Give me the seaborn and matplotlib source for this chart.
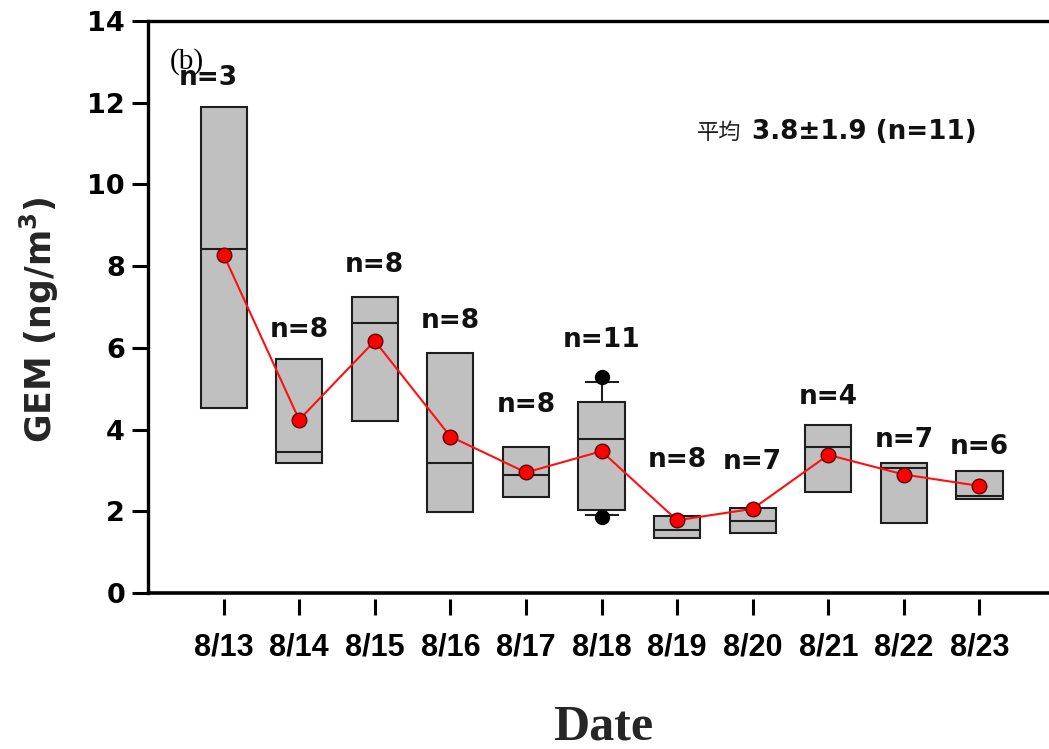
import numpy as np
import pandas as pd
import matplotlib
matplotlib.use("Agg")
import matplotlib.pyplot as plt
import seaborn as sns

# ---------------- data ----------------
dates = ["8/13", "8/14", "8/15", "8/16", "8/17", "8/18", "8/19", "8/20", "8/21", "8/22", "8/23"]
q1 = [4.53, 3.18, 4.21, 1.98, 2.34, 2.02, 1.35, 1.47, 2.46, 1.71, 2.29]
q3 = [11.89, 5.73, 7.24, 5.87, 3.57, 4.68, 1.88, 2.08, 4.10, 3.17, 2.99]
medians = [8.42, 3.45, 6.61, 3.18, 2.90, 3.76, 1.54, 1.76, 3.58, 3.05, 2.37]
means = [8.28, 4.24, 6.17, 3.83, 2.95, 3.47, 1.78, 2.06, 3.38, 2.90, 2.62]
whisker_low = [4.53, 3.18, 4.21, 1.98, 2.34, 1.92, 1.35, 1.47, 2.46, 1.71, 2.29]
whisker_high = [11.89, 5.73, 7.24, 5.87, 3.57, 5.17, 1.88, 2.08, 4.10, 3.17, 2.99]
outliers = [[], [], [], [], [], [1.87, 5.29], [], [], [], [], []]
counts = [3, 8, 8, 8, 8, 11, 8, 7, 4, 7, 6]
overall_label = "平均"
overall_text = "3.8±1.9 (n=11)"

# label placement (layout only)
n_label_y = [12.60, 6.44, 8.03, 6.66, 4.60, 6.19, 3.26, 3.21, 4.80, 3.74, 3.57]
n_label_dx = [-0.2, 0, 0, 0, 0, 0, 0, 0, 0, 0, 0]

# ---------------- style ----------------
sns.set_theme(style="ticks")
plt.rcParams["font.family"] = ["DejaVu Sans"]
plt.rcParams["mathtext.default"] = "bf"

W, H = 1049, 749
fig = plt.figure(figsize=(W / 100, H / 100), dpi=100)
ax = fig.add_axes([148 / W, (H - 593) / H, (W - 148) / W, (593 - 21) / H])

# spines first (set_position resets ticks)
for s in ["left", "top"]:
    ax.spines[s].set_linewidth(2.4)
    ax.spines[s].set_color("black")
ax.spines["right"].set_visible(False)
ax.spines["bottom"].set_position(("outward", 4))
ax.spines["bottom"].set_visible(False)

positions = list(range(len(dates)))

stats = []
for i in positions:
    stats.append(dict(med=medians[i], q1=q1[i], q3=q3[i],
                      whislo=whisker_low[i], whishi=whisker_high[i],
                      fliers=np.array(outliers[i]), label=dates[i]))
capw = [0.45 if (whisker_low[i] != q1[i] or whisker_high[i] != q3[i]) else 0.0 for i in positions]

ax.bxp(stats, positions=positions, widths=0.61, patch_artist=True,
       capwidths=capw, showfliers=True,
       boxprops=dict(facecolor="#c0c0c0", edgecolor="#1e1e1e", linewidth=1.5),
       medianprops=dict(color="#1e1e1e", linewidth=1.5),
       whiskerprops=dict(color="#1e1e1e", linewidth=1.5, solid_capstyle="butt"),
       capprops=dict(color="#1e1e1e", linewidth=1.5, solid_capstyle="butt"),
       flierprops=dict(marker="o", markerfacecolor="black", markeredgecolor="black",
                       markersize=10, linestyle="none"),
       zorder=2)

sns.lineplot(x=positions, y=means, ax=ax, color="#ff1010", linewidth=1.5,
             marker="o", markersize=10.5, markerfacecolor="#ff0000",
             markeredgecolor="#5a0000", markeredgewidth=1.0, zorder=4, legend=False)

for i in positions:
    ax.text(positions[i] + n_label_dx[i], n_label_y[i], f"n={counts[i]}",
            ha="center", va="center", fontsize=19, fontweight="bold", color="#111111")

ax.set_xlim(-1, 10.92)
ax.set_ylim(0, 14)
ax.set_yticks(np.arange(0, 15, 2))
ax.set_yticklabels([str(v) for v in range(0, 15, 2)], fontsize=19.5, fontweight="bold")
ax.set_xticks(positions)
ax.set_xticklabels(dates, fontsize=22, fontweight="bold", family="Liberation Sans")

ax.tick_params(axis="y", direction="out", length=11.5, width=2.2, pad=5, colors="black")
ax.tick_params(axis="x", direction="out", length=11.5, width=2.2, pad=13, colors="black")

ax.axhline(0, color="black", linewidth=2.6, clip_on=False, zorder=5)

ax.set_ylabel("GEM (ng/m$^{3}$)", fontsize=25, fontweight="bold", va="center")
ax.yaxis.set_label_coords((39 - 148) / (W - 148), (593 - 320) / (593 - 21))
ax.set_xlabel("Date", fontsize=36, fontweight="bold", family="Liberation Serif", va="center")
ax.xaxis.set_label_coords((603 - 148) / (W - 148), -(727 - 593) / (593 - 21))

fig.text(170 / W, (H - 62) / H, "(b)", fontsize=21, family="Liberation Serif",
         ha="left", va="center", color="black")
fig.text(697 / W, (H - 132) / H, overall_label, fontsize=16, family=["Noto Sans CJK TC", "DejaVu Sans"],
         ha="left", va="center", color="#222222")
fig.text(752 / W, (H - 132) / H, overall_text, fontsize=18.8, fontweight="bold",
         ha="left", va="center", color="#111111")

fig.savefig("out.png", dpi=100, facecolor="white")
